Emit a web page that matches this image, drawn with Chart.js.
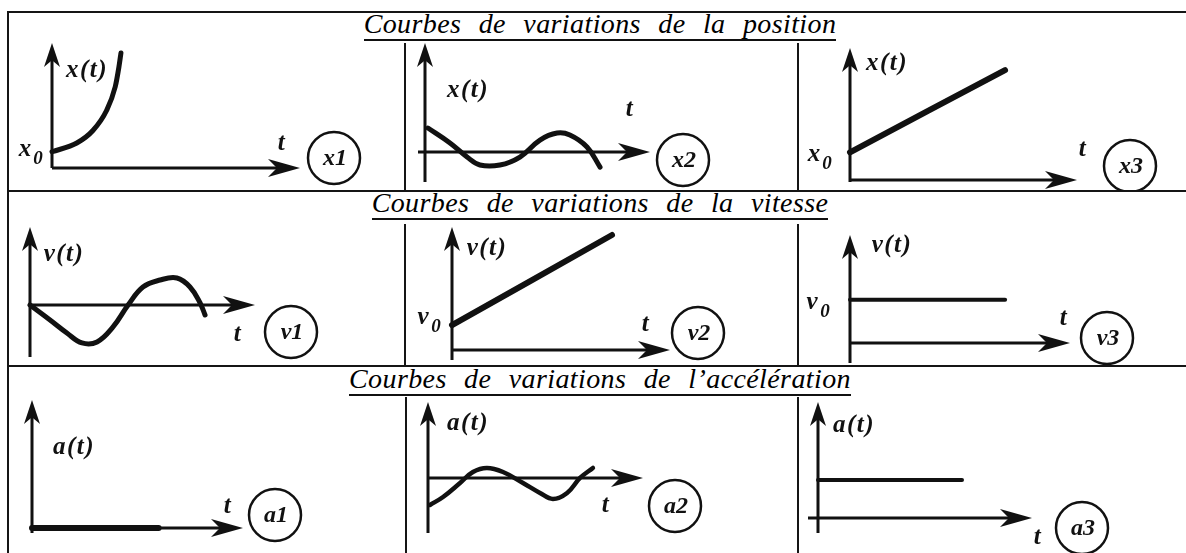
<!DOCTYPE html>
<html>
<head>
<meta charset="utf-8">
<script src="https://cdn.jsdelivr.net/npm/chart.js@4/dist/chart.umd.min.js"></script>
<style>
  body { margin: 0; background: #fff; }
  #page { position: relative; width: 1186px; height: 553px; overflow: hidden; background: #fff; }
  .hl { position: absolute; left: 8px; right: 0; height: 2px; background: #151515; }
  .vl { position: absolute; width: 2px; background: #151515; }
  .title { position: absolute; left: 0; width: 1200px; text-align: center;
           font: italic 28px "Liberation Serif", serif; line-height: 28px; color: #000;
           word-spacing: 10px; letter-spacing: 0.4px; }
  .title span { border-bottom: 2px solid #111; }
  canvas { position: absolute; }
</style>
</head>
<body>
<div id="page">
  <div class="hl" style="top:11px"></div>
  <div class="hl" style="top:190px"></div>
  <div class="hl" style="top:365px"></div>
  <div class="vl" style="left:7px;top:11px;height:542px"></div>

  <div class="vl" style="left:404px;top:43px;height:148px"></div>
  <div class="vl" style="left:797px;top:43px;height:148px"></div>
  <div class="vl" style="left:404px;top:224px;height:142px"></div>
  <div class="vl" style="left:797px;top:224px;height:142px"></div>
  <div class="vl" style="left:405px;top:397px;height:156px"></div>
  <div class="vl" style="left:797px;top:397px;height:156px"></div>

  <div class="title" style="top:10px"><span>Courbes de variations de la position</span></div>
  <div class="title" style="top:189px"><span>Courbes de variations de la vitesse</span></div>
  <div class="title" style="top:365px"><span>Courbes de variations de l’accélération</span></div>
</div>

<script>
// ---- values (t axis runs 0..10 up to the arrow tip) ----
// position
const tX1 = [0, 1.0, 1.65, 2.2, 2.55, 2.7, 2.78];
const xX1 = [1.3, 2.0, 3.0, 4.6, 6.5, 8.1, 9.2];
const tX2 = [0.13, 1.11, 1.87, 2.44, 3.33, 4.22, 5.11, 5.87, 6.44, 7.2, 7.78];
const xX2 = [2.2, 0.83, -0.46, -1.19, -1.19, -0.46, 1.1, 1.74, 1.56, 0.46, -1.38];
const tX3 = [0, 6.83];
const xX3 = [2.1, 8.33];
// vitesse
const tV1 = [0, 0.89, 1.64, 2.31, 2.98, 3.69, 4.36, 5.02, 5.78, 6.53, 7.11, 7.56, 7.78];
const vV1 = [0, -1.92, -3.59, -4.87, -4.74, -2.82, 0, 2.31, 3.2, 3.46, 2.31, 0.26, -1.28];
const tV2 = [0, 7.34];
const vV2 = [2.03, 9.35];
const tV3 = [0, 7.05];
const vV3 = [4, 4];
// acceleration
const tA1 = [0, 6];
const aA1 = [0, 0];
const tA2 = [0.09, 0.7, 1.49, 2.09, 2.74, 3.49, 4.42, 5.21, 5.81, 6.47, 7.07, 7.67];
const aA2 = [-3.55, -2.5, -0.66, 0.79, 1.32, 0.79, -0.66, -1.97, -2.76, -1.97, 0, 1.32];
const tA3 = [0, 6.73];
const aA3 = [3.28, 3.28];

const INK = '#111';
const FONT = '"Liberation Serif", serif';

// cell canvases (page px) and plot boxes (y axis x, arrow tip, top arrow, axis bottom)
const graphs = [
  { cv: [10, 14, 394, 177], box: [52, 300, 43, 168], yr: [0, 10], t: tX1, v: xX1, lw: 5, over: 0, mono: true,
    labels: [['x(t)', 87, 71], ['t', 282, 144]], sub: [['x', 25, 150]], circ: ['x1', 334, 158] },
  { cv: [407, 14, 390, 177], box: [425, 650, 43, 182], yr: [-2.75, 10], t: tX2, v: xX2, lw: 5, over: 7,
    labels: [['x(t)', 468, 91], ['t', 630, 110]], sub: [], circ: ['x2', 683, 160] },
  { cv: [800, 14, 386, 177], box: [850, 1077, 48, 182], yr: [-0.15, 10], t: tX3, v: xX3, lw: 6, over: 0,
    labels: [['x(t)', 887, 64], ['t', 1083, 150]], sub: [['x', 814, 155]], circ: ['x3', 1130, 166] },

  { cv: [10, 193, 394, 172], box: [30, 255, 227, 357], yr: [-6.67, 10], t: tV1, v: vV1, lw: 5, over: 0,
    labels: [['v(t)', 64, 255], ['t', 238, 335]], sub: [], circ: ['v1', 291, 332] },
  { cv: [407, 193, 390, 172], box: [452, 670, 227, 360], yr: [-0.81, 10], t: tV2, v: vV2, lw: 6, over: 0,
    labels: [['v(t)', 487, 249], ['t', 646, 325]], sub: [['v', 423, 318]], circ: ['v2', 698, 333] },
  { cv: [800, 193, 386, 172], box: [850, 1070, 235, 363], yr: [-1.85, 10], t: tV3, v: vV3, lw: 4, over: 0,
    labels: [['v(t)', 892, 246], ['t', 1064, 319]], sub: [['v', 812, 303]], circ: ['v3', 1107, 338] },

  { cv: [10, 368, 394, 185], box: [32, 243, 400, 533], yr: [-0.39, 10], t: tA1, v: aA1, lw: 6, over: 0,
    labels: [['a(t)', 74, 448], ['t', 228, 507]], sub: [], circ: ['a1', 275, 515] },
  { cv: [408, 368, 389, 185], box: [428, 643, 402, 533], yr: [-7.24, 10], t: tA2, v: aA2, lw: 4.5, over: 0,
    labels: [['a(t)', 468, 424], ['t', 606, 506]], sub: [], circ: ['a2', 675, 506] },
  { cv: [800, 368, 386, 185], box: [818, 1032, 402, 533], yr: [-1.29, 10], t: tA3, v: aA3, lw: 4, over: 10,
    labels: [['a(t)', 854, 426], ['t', 1038, 538]], sub: [], circ: ['a3', 1082, 528] }
];

function arrowHead(ctx, x, y, up, len, half) {
  ctx.save();
  ctx.translate(x, y);
  if (up) ctx.rotate(-Math.PI / 2);
  ctx.beginPath();
  ctx.moveTo(0, 0);
  ctx.lineTo(-len, -half);
  ctx.lineTo(-len * 0.72, 0);
  ctx.lineTo(-len, half);
  ctx.closePath();
  ctx.fill();
  ctx.restore();
}

// axes with arrows + hand-written labels, drawn around the chart's own scales
function sketchPlugin(g) {
  const ox0 = g.cv[0], oy0 = g.cv[1];
  return {
    id: 'sketch',
    beforeDatasetsDraw(chart) {
      const { ctx, scales: { x, y } } = chart;
      const ax = x.getPixelForValue(0), ay = y.getPixelForValue(0);
      const top = y.getPixelForValue(y.max), bot = y.getPixelForValue(y.min);
      const tip = x.getPixelForValue(x.max);
      ctx.save();
      ctx.strokeStyle = INK;
      ctx.fillStyle = INK;
      ctx.lineWidth = 3;
      ctx.beginPath();
      ctx.moveTo(ax, bot);
      ctx.lineTo(ax, top + 12);
      ctx.moveTo(ax - g.over, ay);
      ctx.lineTo(tip - 12, ay);
      ctx.stroke();
      arrowHead(ctx, ax, top, true, 24, 8);
      arrowHead(ctx, tip, ay, false, 32, 9);
      ctx.restore();
    },
    afterDraw(chart) {
      const ctx = chart.ctx;
      ctx.save();
      ctx.fillStyle = INK;
      ctx.strokeStyle = INK;
      ctx.textAlign = 'center';
      ctx.textBaseline = 'middle';
      ctx.font = 'bold italic 25px ' + FONT;
      ctx.letterSpacing = '1.5px';
      g.labels.forEach(([txt, px, py]) => ctx.fillText(txt, px - ox0, py - oy0));
      ctx.letterSpacing = '0px';
      g.sub.forEach(([txt, px, py]) => {
        ctx.font = 'bold italic 25px ' + FONT;
        ctx.fillText(txt, px - ox0, py - oy0);
        ctx.font = 'bold italic 19px ' + FONT;
        ctx.fillText('0', px - ox0 + 13, py - oy0 + 9);
      });
      const [ct, cx, cy] = g.circ;
      ctx.lineWidth = 2.5;
      ctx.beginPath();
      ctx.arc(cx - ox0, cy - oy0, 26, 0, Math.PI * 2);
      ctx.stroke();
      ctx.font = 'bold italic 24px ' + FONT;
      ctx.fillText(ct, cx - ox0 + 1, cy - oy0 + 1);
      ctx.restore();
    }
  };
}

const page = document.getElementById('page');
graphs.forEach(g => {
  const [cl, ct, cw, ch] = g.cv;
  const [bl, br, bt, bb] = g.box;
  const canvas = document.createElement('canvas');
  canvas.width = cw;
  canvas.height = ch;
  canvas.style.left = cl + 'px';
  canvas.style.top = ct + 'px';
  canvas.style.width = cw + 'px';
  canvas.style.height = ch + 'px';
  page.appendChild(canvas);

  new Chart(canvas.getContext('2d'), {
    type: 'line',
    data: {
      datasets: [{
        data: g.t.map((t, i) => ({ x: t, y: g.v[i] })),
        borderColor: INK,
        borderWidth: g.lw,
        borderCapStyle: 'round',
        borderJoinStyle: 'round',
        pointRadius: 0,
        cubicInterpolationMode: g.mono ? 'monotone' : 'default',
        tension: 0.4,
        clip: false
      }]
    },
    options: {
      responsive: false,
      animation: false,
      events: [],
      layout: { padding: { left: bl - cl, right: cl + cw - br, top: bt - ct, bottom: ct + ch - bb } },
      scales: {
        x: { type: 'linear', min: 0, max: 10, display: false },
        y: { type: 'linear', min: g.yr[0], max: g.yr[1], display: false }
      },
      plugins: { legend: { display: false }, tooltip: { enabled: false } }
    },
    plugins: [sketchPlugin(g)]
  });
});
</script>
</body>
</html>
